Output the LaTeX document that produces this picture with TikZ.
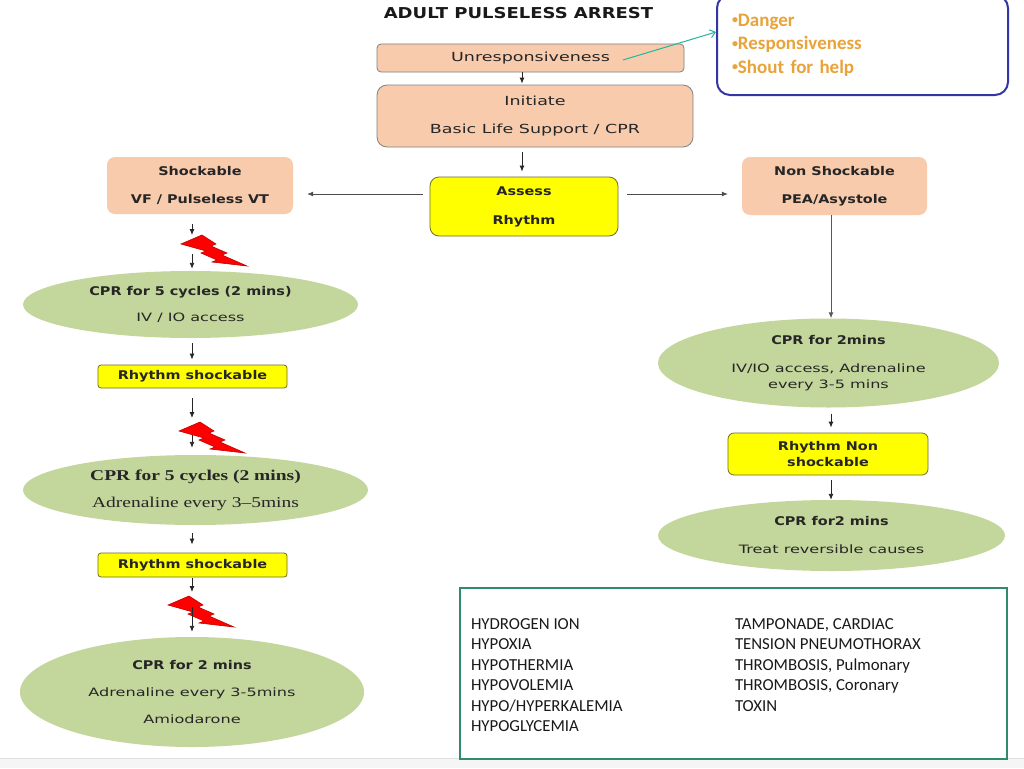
\documentclass[tikz,border=0pt]{standalone}
\usepackage{fontspec}
\setmainfont{DejaVu Sans}[FakeStretch=1.2]
\newfontfamily\widesans{DejaVu Sans}[FakeStretch=1.4]
\newfontfamily\widesrf{Liberation Serif}[FakeStretch=1.3,Ligatures=TeX]
\newfontfamily\calib{Carlito}
\usetikzlibrary{shapes.geometric,arrows.meta}
\definecolor{peach}{HTML}{F8CBAD}
\definecolor{peachedge}{HTML}{808080}
\definecolor{leaf}{HTML}{C3D69B}
\definecolor{lemon}{HTML}{FFFF00}
\definecolor{lemonedge}{HTML}{6E6E2A}
\definecolor{ink}{HTML}{262626}
\definecolor{navy}{HTML}{3535A6}
\definecolor{amber}{HTML}{E8A33A}
\definecolor{sea}{HTML}{22B5A0}
\definecolor{pine}{HTML}{2E8B6E}
\definecolor{boltedge}{HTML}{C00000}
\newcommand{\boldline}{\normalfont\bfseries\fontsize{12}{14}\selectfont}
\newcommand{\dotmark}{{\fontsize{12}{12}\selectfont\raisebox{2.5pt}{•}}}
\tikzset{bolt/.pic={
    \filldraw[fill=red, draw=boltedge, line width=0.6pt]
        (-33,-6) -- (-12,-15) -- (2,-6) -- (-3,-4) -- (13,3) -- (8,5) -- (33,16)
        -- (-2,12) -- (3,10) -- (-13,3) -- (-8,1) -- cycle;
}}
\begin{document}
\begin{tikzpicture}[x=1pt,y=-1pt,
        every node/.style={text=ink, inner sep=0pt, align=center},
        peachbox/.style={draw=peachedge, line width=0.8pt, fill=peach},
        shockbox/.style={fill=peach, rounded corners=8pt, minimum width=186pt, minimum height=57pt,
            font=\bfseries\fontsize{12}{28}\selectfont},
        lemonbox/.style={draw=lemonedge, line width=0.8pt, fill=lemon, font=\bfseries\fontsize{12}{16}\selectfont},
        leafoval/.style={ellipse, fill=leaf},
        arr/.style={-{Latex[length=6pt,width=5pt]}, line width=0.9pt, draw=black!85},
        longarr/.style={-{Latex[length=6pt,width=5pt]}, line width=0.7pt, draw=black!70}]
    \useasboundingbox (0,0) rectangle (1024,768);
    \fill[white] (0,0) rectangle (1024,768);
    \fill[black!4] (0,758) rectangle (1024,768);
    \draw[black!12] (0,758) -- (1024,758);

    % top of the chart
    \node[font=\bfseries\fontsize{15}{18}\selectfont, text=black!90] (title) at (518.5,13) {ADULT PULSELESS ARREST};
    \node[peachbox, rounded corners=4pt, minimum width=307pt, minimum height=28pt,
        font=\widesans\fontsize{12.5}{18}\selectfont] (unresp) at (530.5,58) {Unresponsiveness};
    \node[peachbox, rounded corners=10pt, minimum width=316pt, minimum height=62pt,
        font=\widesans\fontsize{12.5}{28}\selectfont] (init) at (535,116) {Initiate\\Basic Life Support / CPR};
    \node[lemonbox, rounded corners=9pt, minimum width=188pt, minimum height=59pt,
        font=\bfseries\fontsize{12}{29}\selectfont] (assess) at (524,206.5) {Assess\\Rhythm};
    \node[draw=navy, line width=2pt, rounded corners=13pt, minimum width=291pt, minimum height=100pt,
        text width=261pt, inner xsep=15pt, align=left, text=amber,
        font=\calib\bfseries\fontsize{19}{23.5}\selectfont] (info) at (862.5,45)
        {\dotmark Danger\\\dotmark Responsiveness\\\dotmark Shout for help};

    % shockable side
    \node[shockbox] (shock) at (200,185.5) {Shockable\\VF / Pulseless VT};
    \node[leafoval, minimum width=335pt, minimum height=67pt,
        font=\widesans\fontsize{11.5}{26.5}\selectfont] (cpr1) at (190.5,304.5)
        {{\boldline CPR for 5 cycles (2 mins)}\\IV / IO access};
    \node[lemonbox, rounded corners=3pt, minimum width=189pt, minimum height=23pt] (rs1) at (192.5,376.5) {Rhythm shockable};
    \node[leafoval, minimum width=345pt, minimum height=70pt,
        font=\widesrf\fontsize{15}{27}\selectfont] (cpr2) at (195.5,490)
        {\textbf{CPR for 5 cycles (2 mins)}\\Adrenaline every 3–5mins};
    \node[lemonbox, rounded corners=3pt, minimum width=189pt, minimum height=24pt] (rs2) at (192.5,565) {Rhythm shockable};
    \node[leafoval, minimum width=344pt, minimum height=110pt,
        font=\widesans\fontsize{11.5}{27}\selectfont] (cpr3) at (192,692)
        {{\boldline CPR for 2 mins}\\Adrenaline every 3-5mins\\Amiodarone};

    % non shockable side
    \node[shockbox, minimum width=185pt, minimum height=58pt] (nonshock) at (834.5,186) {Non Shockable\\PEA/Asystole};
    \node[leafoval, minimum width=341pt, minimum height=89pt,
        font=\widesans\fontsize{11.5}{16}\selectfont] (cprR1) at (828.5,363)
        {{\boldline CPR for 2mins}\\[12pt]IV/IO access, Adrenaline\\every 3-5 mins};
    \node[lemonbox, rounded corners=6pt, minimum width=200pt, minimum height=42pt] (rns) at (828,454) {Rhythm Non\\shockable};
    \node[leafoval, minimum width=347pt, minimum height=71pt,
        font=\widesans\fontsize{11.5}{28}\selectfont] (cprR2) at (831.5,535.5)
        {{\boldline CPR for2 mins}\\Treat reversible causes};

    % reversible causes
    \node[draw=pine, line width=2pt, minimum width=547pt, minimum height=171pt] (causes) at (733.5,673.5) {};
    \node[text=black!90, font=\calib\fontsize{16.8}{20.4}\selectfont] (causelist) at (733.5,676.5)
        {\begin{tabular}{@{}p{264pt}@{}p{261pt}@{}}
            HYDROGEN ION & TAMPONADE, CARDIAC\\
            HYPOXIA & TENSION PNEUMOTHORAX\\
            HYPOTHERMIA & THROMBOSIS, Pulmonary\\
            HYPOVOLEMIA & THROMBOSIS, Coronary\\
            HYPO/HYPERKALEMIA & TOXIN\\
            HYPOGLYCEMIA &
        \end{tabular}};

    % shocks
    \pic at (214,250) {bolt};
    \pic at (212,437) {bolt};
    \pic at (201,611) {bolt};

    \coordinate (hy) at (0,194);
    \coordinate (mx) at (522,0);
    \coordinate (lx) at (192,0);
    \coordinate (rx) at (831,0);
    \coordinate (z1) at (192,250);
    \coordinate (z2) at (192,426);
    \coordinate (z3) at (192,600);
    \coordinate (tealfrom) at (623,60);
    \coordinate (tealto) at (716,32);

    % connectors
    \draw[sea, line width=1pt, -{Straight Barb[length=5pt,width=8pt]}] (tealfrom) -- (tealto);
    \draw[arr, shorten >=1pt] (unresp.south -| mx) -- (init.north -| mx);
    \draw[arr, shorten <=5pt, shorten >=5pt] (init.south -| mx) -- (assess.north -| mx);
    \draw[longarr, shorten <=7pt, shorten >=14pt] (assess.west |- hy) -- (shock.east |- hy);
    \draw[longarr, shorten <=9pt, shorten >=14pt] (assess.east |- hy) -- (nonshock.west |- hy);
    \draw[arr, shorten <=10pt, shorten >=15pt] (shock.south -| lx) -- (z1);
    \draw[arr, shorten <=4pt, shorten >=2pt] (z1) -- (cpr1.north -| lx);
    \draw[arr, shorten <=5pt, shorten >=5pt] (cpr1.south -| lx) -- (rs1.north -| lx);
    \draw[arr, shorten <=10pt, shorten >=8pt] (rs1.south -| lx) -- (z2);
    \draw[arr, shorten <=9pt, shorten >=7pt] (z2) -- (cpr2.north -| lx);
    \draw[arr, shorten <=8pt, shorten >=8pt] (cpr2.south -| lx) -- (rs2.north -| lx);
    \draw[arr, shorten <=1pt, shorten >=8pt] (rs2.south -| lx) -- (z3);
    \draw[arr, shorten <=7pt, shorten >=5pt] (z3) -- (cpr3.north -| lx);
    \draw[longarr, line width=1pt, draw=black!65] (nonshock.south -| rx) -- (cprR1.north -| rx);
    \draw[arr, shorten <=6pt, shorten >=5pt] (cprR1.south -| rx) -- (rns.north -| rx);
    \draw[arr, shorten <=5pt] (rns.south -| rx) -- (cprR2.north -| rx);
\end{tikzpicture}
\end{document}
